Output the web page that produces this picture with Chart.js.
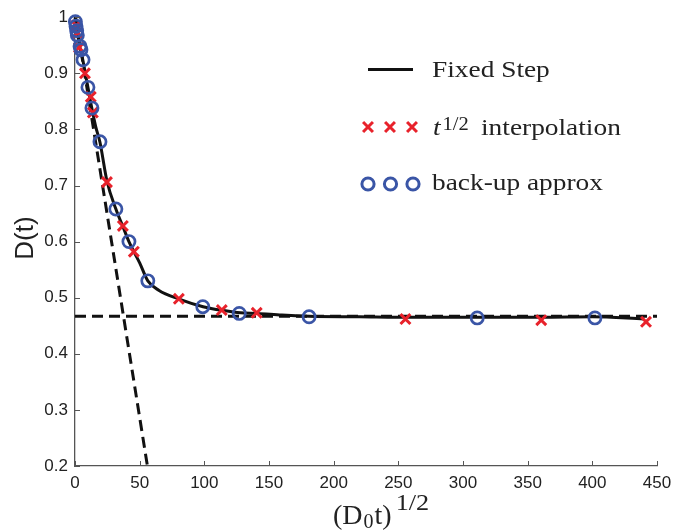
<!DOCTYPE html>
<html>
<head>
<meta charset="utf-8">
<script src="https://cdn.jsdelivr.net/npm/chart.js@4.4.1/dist/chart.umd.min.js"></script>
<style>
  html, body { margin: 0; padding: 0; background: #fff; }
  #c { display: block; }
</style>
</head>
<body>
<canvas id="c" width="688" height="530"></canvas>
<script>
// ---------------- data ----------------
const xTickValues = [0, 50, 100, 150, 200, 250, 300, 350, 400, 450];
const xTickLabels = ['0', '50', '100', '150', '200', '250', '300', '350', '400', '450'];
const yTickValues = [0.2, 0.3, 0.4, 0.5, 0.6, 0.7, 0.8, 0.9, 1.0];
const yTickLabels = ['0.2', '0.3', '0.4', '0.5', '0.6', '0.7', '0.8', '0.9', '1'];

// Fixed Step (solid line)
const fixedX = [0, 1, 2, 3, 4.5, 6.2, 8, 10, 13, 16, 19.3, 24.7, 31.6, 37, 41.7, 46, 50, 56.3, 65, 80, 99, 115, 128, 141, 160, 181, 220, 260, 310, 360, 400, 440];
const fixedY = [1.0, 0.988, 0.972, 0.955, 0.94, 0.922, 0.899, 0.875, 0.838, 0.805, 0.777, 0.708, 0.658, 0.627, 0.600, 0.580, 0.562, 0.530, 0.513, 0.498, 0.484, 0.477, 0.473, 0.472, 0.469, 0.467, 0.466, 0.465, 0.465, 0.465, 0.466, 0.462];

// t^{1/2} interpolation (red crosses)
const interpX = [1, 2, 3.1, 7.7, 12.2, 13.8, 24.7, 37, 45.5, 80.3, 113.5, 140.5, 255.5, 360.5, 441.5];
const interpY = [0.985, 0.972, 0.946, 0.900, 0.858, 0.830, 0.706, 0.628, 0.582, 0.498, 0.478, 0.473, 0.462, 0.460, 0.457];

// back-up approx (blue circles)
const backupX = [0.3, 0.8, 1.3, 1.8, 3.9, 4.6, 6.2, 10, 13.1, 19.3, 31.6, 41.7, 56.3, 98.8, 127, 181, 311, 402];
const backupY = [0.992, 0.984, 0.976, 0.968, 0.948, 0.942, 0.924, 0.875, 0.838, 0.778, 0.658, 0.600, 0.530, 0.484, 0.472, 0.466, 0.464, 0.464];

// dashed asymptotes
const slopeX = [0.5, 56];
const slopeY = [1.0, 0.2];
const plateauX = [0, 450];
const plateauY = [0.467, 0.467];

const pts = (xs, ys) => xs.map((x, i) => ({ x: x, y: ys[i] }));

// ---------------- styling ----------------
const RED = '#e8222b';
const BLUE = '#3a55a6';
const AXIS = '#555';
const TXT = '#222';
const SERIF = '"Liberation Serif", "Times New Roman", serif';
const SANS = '"Liberation Sans", Arial, sans-serif';
const SX = 1.14; // horizontal stretch to mimic Computer Modern widths

function drawStr(ctx, str, x, y, font, sx) {
  ctx.save();
  ctx.font = font;
  ctx.translate(x, y);
  ctx.scale(sx, 1);
  ctx.textAlign = 'left';
  ctx.textBaseline = 'alphabetic';
  ctx.fillText(str, 0, 0);
  const w = ctx.measureText(str).width * sx;
  ctx.restore();
  return w;
}

const decorPlugin = {
  id: 'decor',
  afterDraw(chart) {
    const ctx = chart.ctx;
    const xs = chart.scales.x, ys = chart.scales.y;
    const area = chart.chartArea;
    ctx.save();
    // inward tick marks
    ctx.strokeStyle = AXIS;
    ctx.lineWidth = 1;
    ctx.beginPath();
    xTickValues.forEach(v => {
      const px = Math.round(xs.getPixelForValue(v)) + 0.5;
      ctx.moveTo(px, area.bottom);
      ctx.lineTo(px, area.bottom - 5);
    });
    yTickValues.forEach(v => {
      const py = Math.round(ys.getPixelForValue(v)) + 0.5;
      ctx.moveTo(area.left, py);
      ctx.lineTo(area.left + 5, py);
    });
    ctx.stroke();

    // y axis title
    ctx.fillStyle = TXT;
    ctx.save();
    ctx.translate(26, 238);
    ctx.rotate(-Math.PI / 2);
    ctx.font = '26px ' + SANS;
    ctx.textAlign = 'center';
    ctx.textBaseline = 'middle';
    ctx.fillText('D(t)', 0, 0);
    ctx.restore();

    // x axis title  (D_0 t)^{1/2}
    let x = 333;
    const base = 524;
    const TSX = 1.0;
    x += drawStr(ctx, '(', x, base, '28px ' + SERIF, TSX);
    x += drawStr(ctx, 'D', x, base, '28px ' + SERIF, TSX);
    x += drawStr(ctx, '0', x + 1, base + 4, '20px ' + SERIF, TSX) + 2;
    x += drawStr(ctx, 't', x, base, '28px ' + SERIF, TSX);
    x += drawStr(ctx, ')', x, base, '28px ' + SERIF, TSX);
    drawStr(ctx, '1/2', x + 4, base - 14, '23px ' + SERIF, SX);

    // legend
    ctx.strokeStyle = '#111';
    ctx.lineWidth = 3;
    ctx.beginPath();
    ctx.moveTo(368, 69.5);
    ctx.lineTo(413, 69.5);
    ctx.stroke();
    [368, 390, 412].forEach(px => {
      ctx.strokeStyle = RED;
      Chart.helpers.drawPoint(ctx, { pointStyle: 'crossRot', radius: 7, borderWidth: 3, rotation: 0 }, px, 127);
    });
    [368, 390.5, 413].forEach(px => {
      ctx.strokeStyle = BLUE;
      ctx.fillStyle = 'rgba(0,0,0,0)';
      Chart.helpers.drawPoint(ctx, { pointStyle: 'circle', radius: 6.1, borderWidth: 2.7, rotation: 0 }, px, 184);
    });
    ctx.fillStyle = TXT;
    drawStr(ctx, 'Fixed Step', 432, 77, '24px ' + SERIF, SX);
    let lx = 433;
    lx += drawStr(ctx, 't', lx, 135, 'italic 24px ' + SERIF, SX);
    drawStr(ctx, '1/2', lx + 2, 130, '18px ' + SERIF, SX);
    drawStr(ctx, 'interpolation', 481, 135, '24px ' + SERIF, SX);
    drawStr(ctx, 'back-up approx', 432, 190, '24px ' + SERIF, SX);
    ctx.restore();
  }
};

const chart = new Chart(document.getElementById('c'), {
  type: 'scatter',
  data: {
    datasets: [
      {
        label: 'Fixed Step',
        data: pts(fixedX, fixedY),
        showLine: true,
        borderColor: '#111',
        borderWidth: 3,
        pointRadius: 0,
        cubicInterpolationMode: 'monotone',
        order: 2
      },
      {
        label: 'slope asymptote',
        data: pts(slopeX, slopeY),
        showLine: true,
        borderColor: '#111',
        borderWidth: 3,
        borderDash: [11, 6],
        pointRadius: 0,
        order: 3
      },
      {
        label: 'plateau asymptote',
        data: pts(plateauX, plateauY),
        showLine: true,
        borderColor: '#111',
        borderWidth: 3,
        borderDash: [11, 6],
        pointRadius: 0,
        order: 3
      },
      {
        label: 't^{1/2} interpolation',
        data: pts(interpX, interpY),
        showLine: false,
        pointStyle: 'crossRot',
        pointRadius: 7,
        pointBorderWidth: 3,
        pointBorderColor: RED,
        pointBackgroundColor: RED,
        order: 1
      },
      {
        label: 'back-up approx',
        data: pts(backupX, backupY),
        showLine: false,
        pointStyle: 'circle',
        pointRadius: 6.1,
        pointBorderWidth: 2.7,
        pointBorderColor: BLUE,
        pointBackgroundColor: 'rgba(0,0,0,0)',
        order: 0
      }
    ]
  },
  options: {
    responsive: false,
    animation: false,
    devicePixelRatio: 1,
    clip: false,
    layout: { padding: { top: 13, right: 31, left: 0, bottom: 0 } },
    plugins: {
      legend: { display: false },
      tooltip: { enabled: false },
      title: { display: false }
    },
    elements: { point: { hoverRadius: 0 } },
    scales: {
      x: {
        type: 'linear',
        min: 0,
        max: 450,
        afterBuildTicks: s => { s.ticks = xTickValues.map(v => ({ value: v })); },
        ticks: {
          callback: (v) => xTickLabels[xTickValues.indexOf(v)],
          font: { family: SANS, size: 17 },
          color: TXT,
          padding: 7,
          maxRotation: 0,
          autoSkip: false
        },
        grid: { drawOnChartArea: false, drawTicks: false },
        border: { display: true, color: AXIS, width: 1.3 },
        afterFit: s => { s.height = 64; }
      },
      y: {
        type: 'linear',
        min: 0.2,
        max: 1.0,
        afterBuildTicks: s => { s.ticks = yTickValues.map(v => ({ value: v })); },
        ticks: {
          callback: (v) => yTickLabels[yTickValues.findIndex(t => Math.abs(t - v) < 1e-9)],
          font: { family: SANS, size: 17 },
          color: TXT,
          padding: 7,
          autoSkip: false
        },
        grid: { drawOnChartArea: false, drawTicks: false },
        border: { display: true, color: AXIS, width: 1.3 },
        afterFit: s => { s.width = 75; }
      }
    }
  },
  plugins: [decorPlugin]
});
</script>
</body>
</html>
